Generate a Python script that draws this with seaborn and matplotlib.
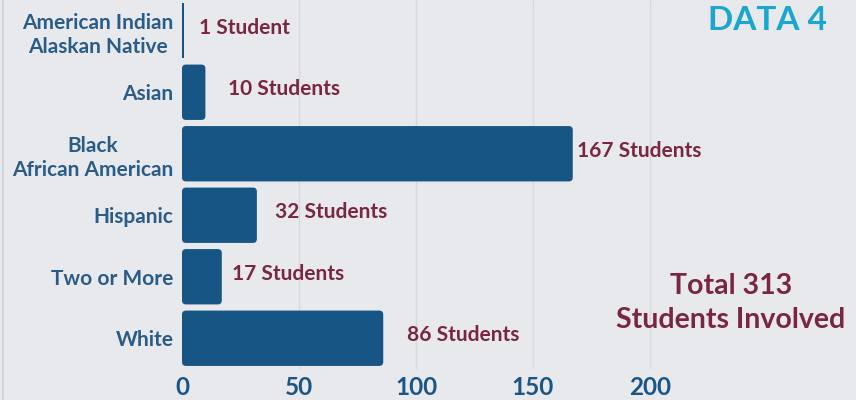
import matplotlib
matplotlib.use("Agg")
import matplotlib.pyplot as plt
import seaborn as sns
import pandas as pd
from matplotlib.patches import FancyBboxPatch
from matplotlib.lines import Line2D

categories = ["American Indian\nAlaskan Native", "Asian", "Black\nAfrican American",
              "Hispanic", "Two or More", "White"]
students = [1, 10, 167, 32, 17, 86]
value_labels = ["1 Student", "10 Students", "167 Students", "32 Students",
                "17 Students", "86 Students"]
x_ticks = [0, 50, 100, 150, 200]
title_text = "DATA 4"
total_text = "Total 313\nStudents Involved"

# label gaps (pixels) after bar end, as in the reference
label_gaps = [15, 23, 4, 18, 10, 24]

BG = "#e8e9ed"
BAR = "#175585"
CAT = "#2a5c88"
TICK = "#1a5585"
MAROON = "#7a2642"
CYAN = "#1aa6cf"

sns.set_theme(style="whitegrid")
plt.rcParams["font.family"] = ["Lato", "DejaVu Sans"]

df = pd.DataFrame({"cat": categories, "n": students})

fig = plt.figure(figsize=(8.56, 4.0), dpi=100, facecolor=BG)
ax = fig.add_axes([182 / 856, 1 - 369 / 400, 1 - 182 / 856, 369 / 400])
ax.set_facecolor(BG)

sns.barplot(data=df, y="cat", x="n", orient="h", color=BAR, width=0.9,
            saturation=1, linewidth=0, ax=ax, zorder=3)

xmax = (856 - 182) / 2.34
ax.set_xlim(0, xmax)
ax.set_ylim(len(categories) - 0.5, -0.5)

# rounded bar corners
px_per_x = (856 - 182) / xmax
px_per_y = 369 / len(categories)
for p in list(ax.patches):
    x0, y0 = p.get_x(), p.get_y()
    w, h = p.get_width(), p.get_height()
    r_px = 4
    if w * px_per_x < 2 * r_px + 1:
        p.set_linewidth(0)
        continue
    p.remove()
    fb = FancyBboxPatch((x0, y0), w, h,
                        boxstyle=f"round,pad=0,rounding_size={r_px / px_per_x}",
                        mutation_aspect=px_per_x / px_per_y,
                        facecolor=BAR, edgecolor="none", zorder=3)
    ax.add_patch(fb)

# value labels
for i, (v, lab, gap) in enumerate(zip(students, value_labels, label_gaps)):
    ax.annotate(lab, xy=(v, i), xytext=(gap * 0.72, 2), textcoords="offset points",
                ha="left", va="center", fontsize=15, fontweight="bold",
                color=MAROON, zorder=4)

ax.set_xticks(x_ticks)
ax.set_xticklabels([str(t) for t in x_ticks])
ax.tick_params(axis="x", labelsize=17.5, labelcolor=TICK, pad=5, length=0)
for lbl in ax.get_xticklabels():
    lbl.set_fontweight("bold")
ax.tick_params(axis="y", labelsize=15, labelcolor=CAT, pad=6, length=0)
for lbl in ax.get_yticklabels():
    lbl.set_fontweight("bold")
    lbl.set_multialignment("center")
    lbl.set_linespacing(1.25)

ax.grid(axis="x", color="#d6d8dd", linewidth=1, zorder=0)
ax.grid(axis="y", visible=False)
ax.xaxis.get_gridlines()[0].set_visible(False)
for s in ax.spines.values():
    s.set_visible(False)
ax.set_xlabel("")
ax.set_ylabel("")

fig.text(768 / 856, 1 - 20 / 400, title_text, ha="center", va="center",
         fontsize=24, fontweight="bold", color=CYAN)
fig.text(731 / 856, 1 - 303 / 400, total_text, ha="center", va="center",
         fontsize=20.5, fontweight="bold", color=MAROON, linespacing=1.35)

fig.add_artist(Line2D([3 / 856, 3 / 856], [0, 1], color="#cfd1d6", linewidth=1.2))

fig.savefig("out.png", dpi=100, facecolor=BG)
